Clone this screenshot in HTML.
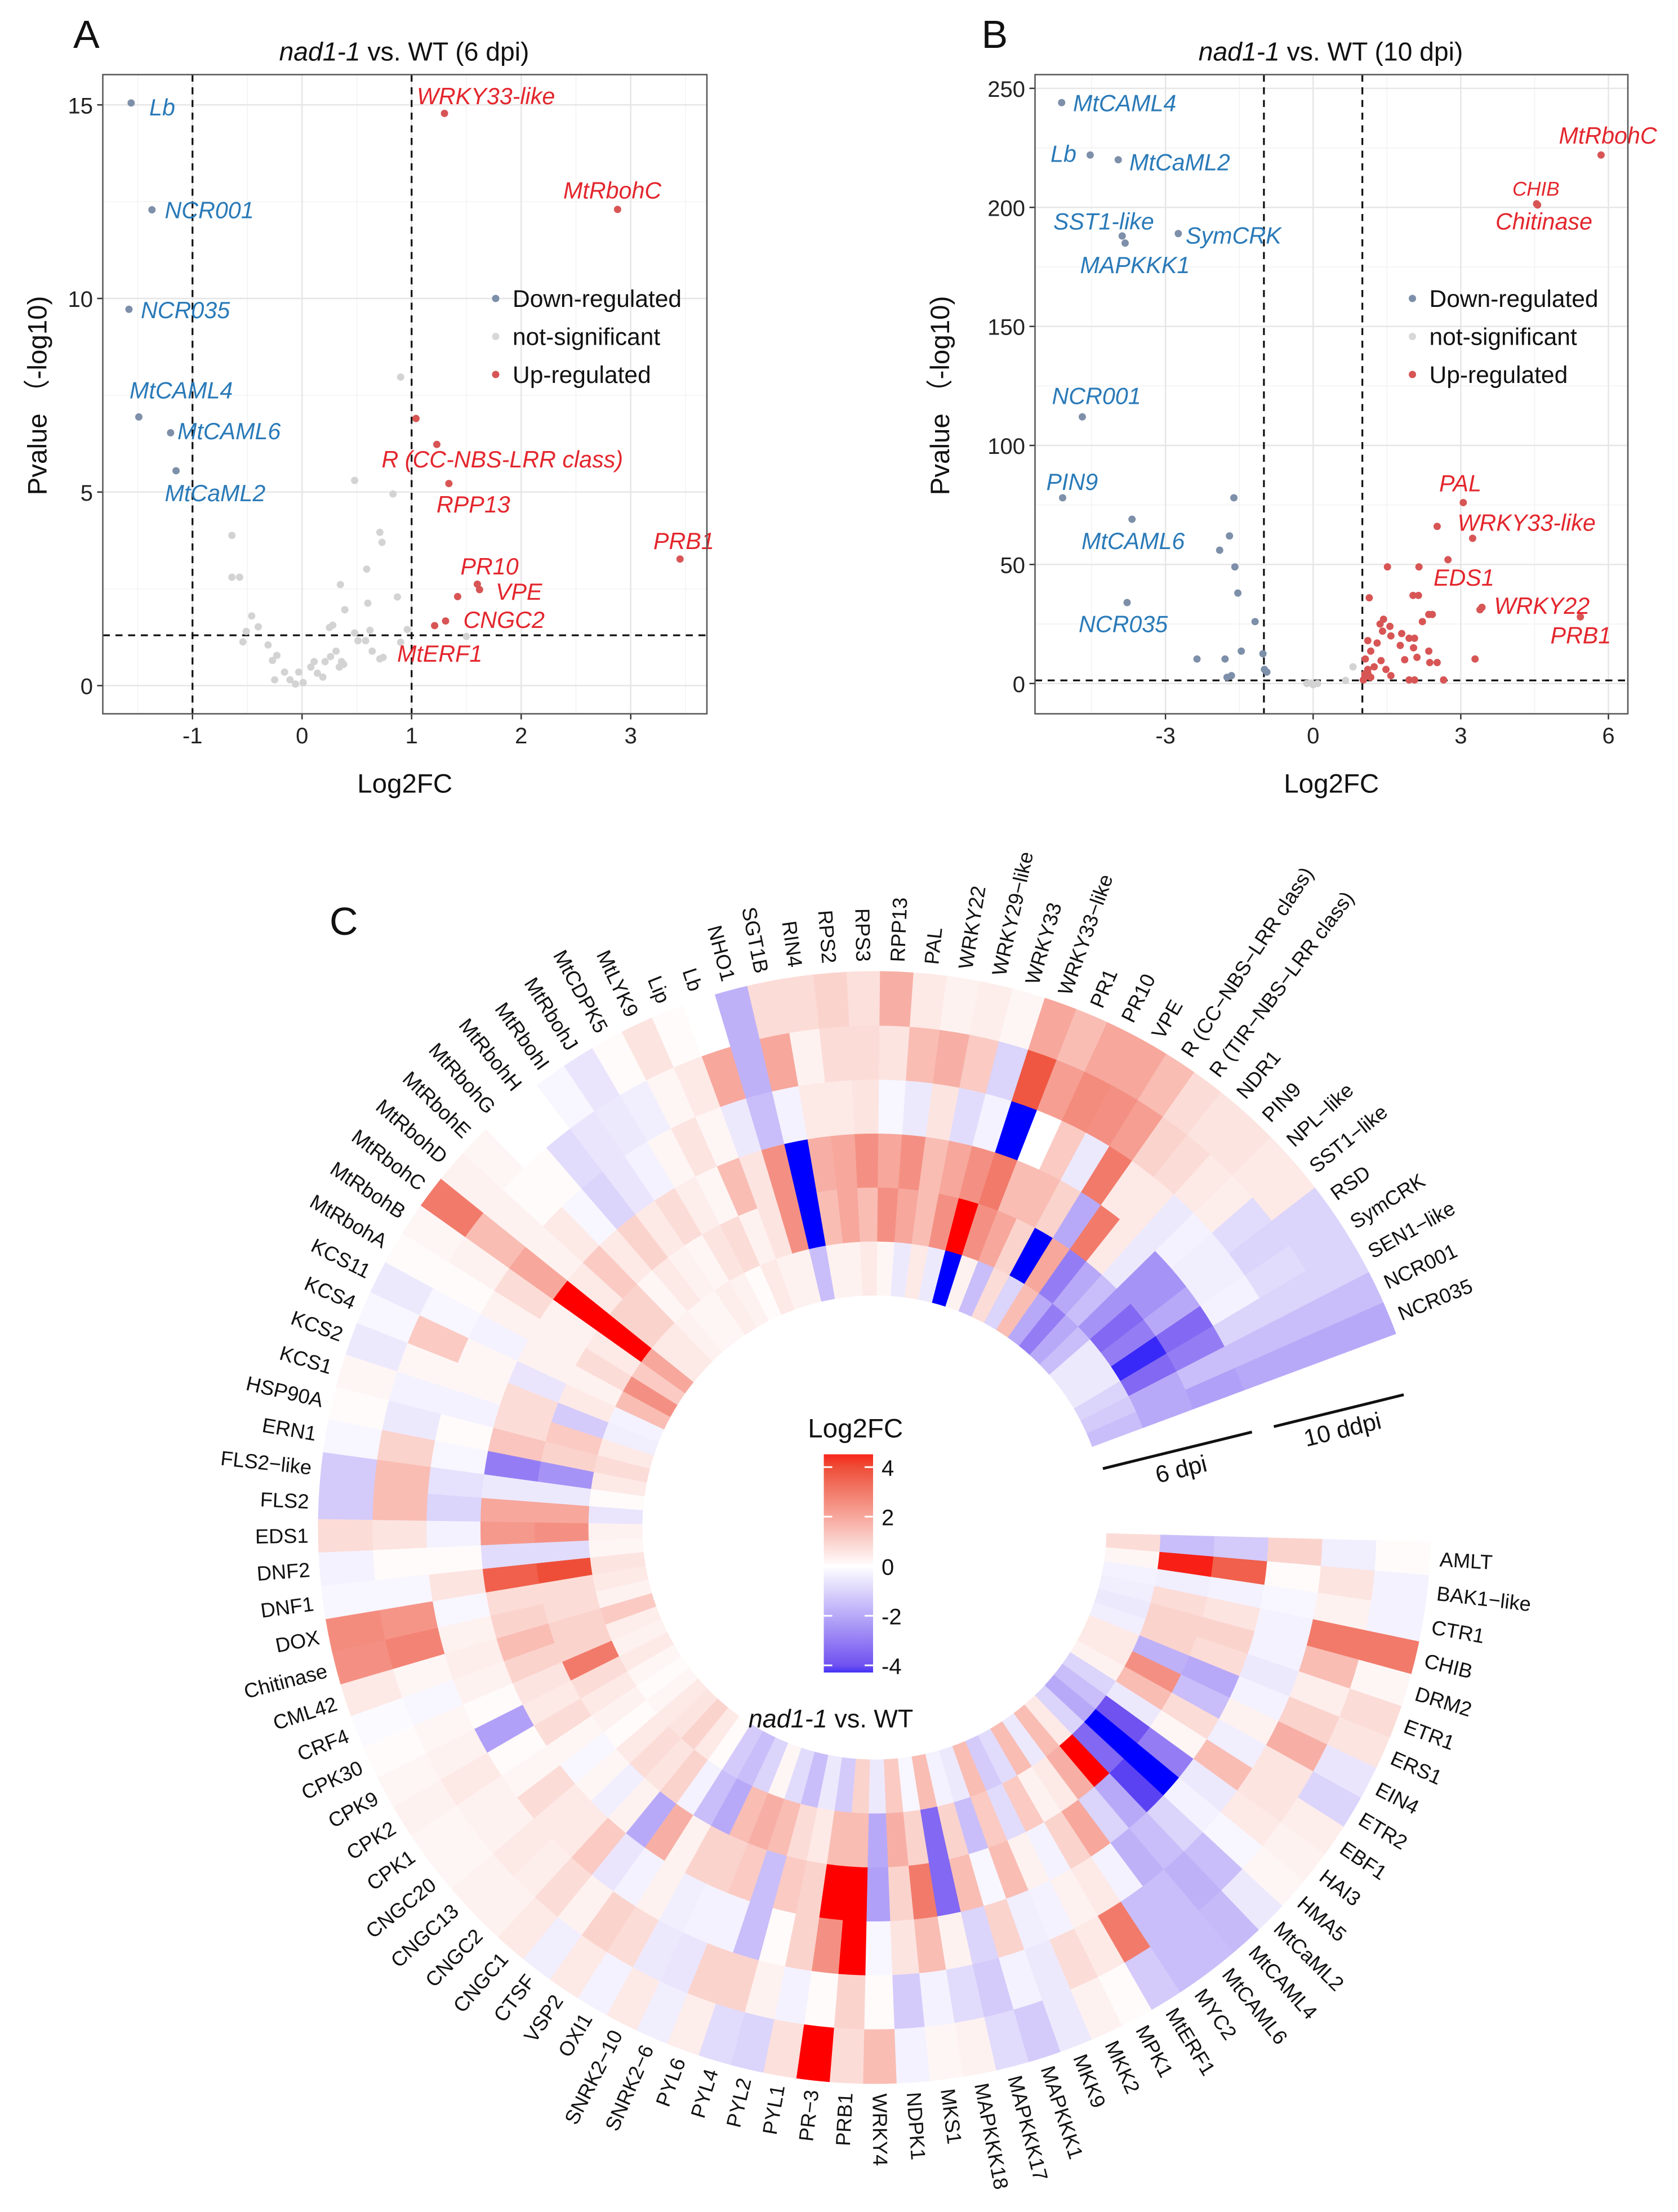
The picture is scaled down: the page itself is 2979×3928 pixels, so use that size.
<!DOCTYPE html>
<html><head><meta charset="utf-8">
<style>
html,body{margin:0;padding:0;background:#fff;}
svg{display:block;font-family:"Liberation Sans",Arial,sans-serif;}
</style></head>
<body>
<svg id="fig" xmlns="http://www.w3.org/2000/svg" width="2979" height="3928" viewBox="0 0 1191.6 1571.2">
<rect width="1191.6" height="1571.2" fill="#fff"/>
<g id="panelA"></g>
<g id="panelB"></g>
<g id="panelC"></g>
</svg>
<script>
// ---------- Panel A data (6 dpi) ----------
const aDownX=[-1.56,-1.37,-1.58,-1.49,-1.20,-1.15];
const aDownY=[15.05,12.29,9.72,6.94,6.53,5.55];
const aUpX=[1.30,2.88,1.04,1.23,1.34,3.45,1.60,1.62,1.42,1.31,1.21];
const aUpY=[14.78,12.30,6.90,6.23,5.22,3.27,2.62,2.48,2.30,1.67,1.55];
const aNsX=[0.90,0.48,0.83,-0.64,0.71,0.73,-0.64,-0.57,0.35,0.59,0.39,0.60,0.87,-0.46,-0.40,-0.51,-0.54,-0.31,-0.23,-0.27,-0.16,-0.25,-0.11,-0.06,0.01,0.08,0.14,0.19,0.21,0.26,0.28,0.31,0.34,0.36,0.38,0.48,0.51,0.62,0.58,0.64,0.71,0.74,0.96,0.90,1.50,0.25,0.11,-0.03];
const aNsY=[7.97,5.30,4.95,3.88,3.96,3.70,2.80,2.80,2.61,3.01,1.96,2.13,2.29,1.80,1.52,1.40,1.13,1.05,0.78,0.65,0.35,0.15,0.15,0.04,0.08,0.48,0.32,0.22,0.62,0.75,1.56,0.89,0.48,0.62,0.55,1.36,1.16,1.43,1.16,0.89,0.69,0.73,1.45,1.12,1.27,1.50,0.62,0.35];
const aDownLabels=["Lb","NCR001","NCR035","MtCAML4","MtCAML6","MtCaML2"];
const aDownLabelX=[106,117,100,92,126,117];
const aDownLabelY=[76,149,220,277,306,350];
const aUpLabels=["WRKY33-like","MtRbohC","R (CC-NBS-LRR class)","RPP13","PRB1","PR10","VPE","CNGC2","MtERF1"];
const aUpLabelX=[296,400,271,310,464,327,352,329,282];
const aUpLabelY=[68,135,326,358,384,402,420,440,464];
const aXTicks=[-1,0,1,2,3];
const aYTicks=[0,5,10,15];

// ---------- Panel B data (10 dpi) ----------
const bDownX=[-5.11,-4.53,-3.96,-2.74,-3.88,-3.82,-4.69,-5.09,-3.68,-1.61,-1.70,-1.90,-1.59,-1.53,-3.78,-1.18,-1.46,-2.36,-1.79,-1.02,-0.99,-1.75,-1.66,-0.94];
const bDownY=[244,222,220,189,188,185,112,78,69,78,62,56,49,38,34,26,13.6,10.3,10.3,12.5,5.9,2.6,3.3,4.8];
const bUpX=[5.85,4.54,4.56,3.05,2.52,3.24,2.74,1.51,2.15,2.03,2.14,1.14,3.39,3.43,5.43,2.35,2.42,2.22,1.36,1.41,1.58,1.30,1.80,1.95,2.06,1.77,2.04,2.35,1.11,1.17,1.06,1.38,1.86,2.11,2.37,2.52,3.29,1.11,1.24,1.48,1.58,1.95,2.06,2.65,1.06,1.17,1.11,1.56,1.43,1.02,1.05];
const bUpY=[222,201.5,201,76,66,61,52,49,49,37,37,36,31,32,28,29,29,26,25,22,20,17,21,19,19,16,15,13.6,18,13.6,10.3,9.6,10,11,8.8,8.8,10.3,5.9,7,5.9,3.3,1.5,1.5,1.5,3,2.6,4.4,24,27,1.5,4];
const bNsX=[0.0,0.09,-0.13,0.66,0.81,-0.04];
const bNsY=[-0.5,0,0,1.3,7,0.2];
const bDownLabels=["MtCAML4","Lb","MtCaML2","SST1-like","SymCRK","MAPKKK1","NCR001","PIN9","MtCAML6","NCR035"];
const bDownLabelX=[762,746,802,748,842,767,747,743,768,766];
const bDownLabelY=[73,109,115,157,167,188,281,342,384,443];
const bUpLabels=["MtRbohC","CHIB","Chitinase","PAL","WRKY33-like","EDS1","WRKY22","PRB1"];
const bUpLabelX=[1107,1074,1062,1022,1035,1018,1061,1101];
const bUpLabelY=[96,133,157,343,371,410,430,451];
const bXTicks=[-3,0,3,6];
const bYTicks=[0,50,100,150,200,250];

// ---------- Panel C data ----------
const genes=["AMLT","BAK1\u2212like","CTR1","CHIB","DRM2","ETR1","ERS1","EIN4","ETR2","EBF1","HAI3","HMA5","MtCaML2","MtCAML4","MtCAML6","MYC2","MtERF1","MPK1","MKK2","MKK9","MAPKKK1","MAPKKK17","MAPKKK18","MKS1","NDPK1","WRKY4","PRB1","PR\u22123","PYL1","PYL2","PYL4","PYL6","SNRK2\u22126","SNRK2\u221210","OXI1","VSP2","CTSF","CNGC1","CNGC2","CNGC13","CNGC20","CPK1","CPK2","CPK9","CPK30","CRF4","CML42","Chitinase","DOX","DNF1","DNF2","EDS1","FLS2","FLS2\u2212like","ERN1","HSP90A","KCS1","KCS2","KCS4","KCS11","MtRbohA","MtRbohB","MtRbohC","MtRbohD","MtRbohE","MtRbohG","MtRbohH","MtRbohI","MtRbohJ","MtCDPK5","MtLYK9","Lip","Lb","NHO1","SGT1B","RIN4","RPS2","RPS3","RPP13","PAL","WRKY22","WRKY29\u2212like","WRKY33","WRKY33\u2212like","PR1","PR10","VPE","R (CC\u2212NBS\u2212LRR class)","R (TIR\u2212NBS\u2212LRR class)","NDR1","PIN9","NPL\u2212like","SST1\u2212like","RSD","SymCRK","SEN1\u2212like","NCR001","NCR035"];
// per gene: 6 rings inner -> outer (3 x 6 dpi, 3 x 10 dpi)
const heatRows=[
[0.8,-1.5,-1.2,1,-0.4,0.1],[0.2,4.6,3.6,0.1,0.6,-0.3],[-0.3,-0.4,-0.3,-0.2,0.3,-0.3],[-0.4,0.8,0.6,-0.3,3,3],
[-0.5,1,1,-0.3,1.5,0.2],[-0.4,1,0.8,-0.5,0.4,0.8],[0.5,-1.8,-2,-0.3,1,0.6],[0.5,2.5,-1.5,0.3,1.8,-0.6],
[0.3,1.5,0.8,-0.4,0.6,-1.0],[-1,-0.5,0.2,1.5,0.6,0.4],[-1.5,-4,-3,-0.5,0.5,0.3],[-2,-5,-5,-0.3,-0.2,0.2],
[-1,-3.5,-4.2,-1,-1.5,-0.5],[0.5,5,-2,-1.5,-1.8,-1.6],[1.5,1.8,-1,-1.8,-1.5,-1.5],[-0.5,0.5,2,-0.3,-1.5,-1.5],
[1.5,0.3,1,0.5,3,-1.2],[-0.8,1.2,-0.3,0.3,0.5,0.1],[-1.2,-0.8,0.3,-0.3,0.8,0.3],[1.5,1.2,1.5,-0.4,-0.5,-0.5],
[-0.5,-1.5,-0.2,1,-0.3,-1.2],[-0.3,1,1.5,-1,-1.2,-0.8],[1.5,-3.5,-3.5,0.3,-0.8,0.3],[-0.2,1,3,1.5,-0.3,0.2],
[1.2,1.8,1,0.6,-1.2,-0.3],[-0.5,-2,-2.2,-0.2,0.1,1.5],[1,1.5,5,5,1,0.8],[-1.2,1.5,5,2.5,0.1,5],
[-0.5,0.5,1,1,-0.3,0.7],[-1.5,0.8,1.2,0.1,0.3,-1],[-0.8,1.5,-1.5,-1.5,1,-0.8],[0.2,1.8,1.2,-0.3,1,0.4],
[-1,1.5,1,-0.3,-0.6,-0.4],[-1.5,-2,1,-0.4,-0.5,0.5],[-1.2,-1.5,0.3,0.3,0.8,-0.3],[0.1,-0.3,1.8,-0.3,1,0.5],
[0.5,1,-2,-0.6,0.3,-0.4],[1,0.6,0.3,1.2,0.8,0.5],[0.6,0.8,-0.4,0.5,0.4,0.3],[0.5,0.5,0.2,0.5,0.5,0.3],
[0.2,0.1,-0.2,0.8,0.3,0.2],[0.1,0.3,0.2,0.2,0.3,0.2],[0.2,0.5,0.8,0.1,0.5,0.3],[0.5,0.8,0.5,-2.2,0.3,0.2],
[0.3,3,0.6,0.1,0.2,0.1],[0.4,1,1,0.3,-0.2,-0.1],[1.2,1,1.5,0.4,0.2,0.5],[0.3,0.8,1,0.3,2.8,2.5],
[0.5,0.8,0.8,-0.2,2.4,2.6],[0.6,4,3.6,0.6,-0.2,-0.2],[0.2,-0.8,-0.8,0.1,0.1,-0.3],[0.3,2.5,2.3,-0.3,0.6,0.8],
[-0.6,2,2,-1,1.5,-1.2],[0.1,-0.5,-0.5,-0.7,1.5,-1.2],[0.5,-2.5,-3,-0.2,1,-0.2],[0.8,1,1.3,0.1,-0.5,0.1],
[0.5,1.2,0.8,-0.3,-0.3,0.2],[-0.4,-1.2,0.8,0.2,0.2,-0.5],[-0.3,0.5,-0.6,0.2,1.2,-0.2],[1.5,0.3,0.3,-0.3,-0.2,-0.5],
[2.5,0.8,0.3,0.3,0.1,0.1],[1.2,0.5,0.3,0.8,0.3,0.2],[2,5,5,2,1.5,3],[0.5,1,0.5,0.3,0.3,0.3],
[0.5,1,1.2,0.5,0.1,0.2],[0.3,0.2,0.5,-0.2,0.1,0],[0.2,0.5,1,-1,-0.8,0],[0.2,0.3,0.5,-0.6,-0.6,-0.2],
[0.4,0.2,0.8,-0.3,-0.5,-0.6],[0.3,0.6,0.4,0.2,-0.4,0.1],[0.1,0.8,0.2,0.6,0.2,0.6],[0.5,0.3,1.5,0.2,0.5,0.1],
[0.3,0.6,0.6,-0.5,2,0],[0.3,2.5,2.5,-1.5,-1.8,-1.8],[-1.5,-5,-5,-0.3,2,0.8],[0.3,1.5,1.8,0.5,0.3,0.8],
[0.3,2,2,0.5,0.8,1],[0.5,1.5,2.5,0.6,0.8,0.7],[0.2,2.5,2,-0.2,0.6,1.8],[-0.5,2,2.5,-0.5,1.5,0.5],
[0.5,1.5,1.5,0.6,1.8,0.3],[-0.5,2.5,2,-0.8,1.2,0.4],[-5,5,2.5,-0.3,-1,0.2],[0.3,2.5,3,-5,3.8,2],
[-1.5,2,1.5,0,2.2,1.5],[0.8,1,1.5,1.2,2.6,2],[-1,-5,1,-0.5,2.5,2],[1.5,2,-2,3,2.2,1.5],
[-2,-3,3,0.5,1,0.8],[-3,-2,0.5,0.5,0.8,0.6],[-2,-1.5,-0.5,-0.5,0.5,0.6],[-1.5,-2.5,-2.5,-0.3,0.4,0.5],
[-0.5,-3.5,-2.5,-0.4,-0.8,0.5],[-0.5,-3,-2,-0.4,-1,-1],[-0.5,-4.5,-3.5,-0.3,-0.8,-1],[-1,-3.5,-3,-1,-1,-1],
[-1.2,-2,-1.5,-1.5,-1.5,-1.5],[-1.5,-2,-2.2,-2,-2,-2]];
const legendTicks=[4,2,0,-2,-4];

const NS="http://www.w3.org/2000/svg";
function mk(tag,attrs,parent,text){const e=document.createElementNS(NS,tag);for(const k in attrs)e.setAttribute(k,attrs[k]);if(text!==undefined)e.textContent=text;parent.appendChild(e);return e;}

function volcano(g,o){
  const sx=v=>o.x0+v*o.kx, sy=v=>o.y0-v*o.ky;
  for(const v of o.xMinor){const l=mk('line',{x1:sx(v),x2:sx(v),y1:o.top,y2:o.bot,stroke:'#f2f2f2','stroke-width':0.6},g);}
  for(const v of o.yMinor){const l=mk('line',{x1:o.left,x2:o.right,y1:sy(v),y2:sy(v),stroke:'#f2f2f2','stroke-width':0.6},g);}
  for(const v of o.xTicks){const l=mk('line',{x1:sx(v),x2:sx(v),y1:o.top,y2:o.bot,stroke:'#e6e6e6','stroke-width':1},g);
    const t=mk('line',{x1:sx(v),x2:sx(v),y1:o.bot,y2:o.bot+4,stroke:'#333','stroke-width':1},g);
    const tl=mk('text',{x:sx(v),y:o.bot+21,'text-anchor':'middle','font-size':16,fill:'#222'},g,String(v));}
  for(const v of o.yTicks){const l=mk('line',{x1:o.left,x2:o.right,y1:sy(v),y2:sy(v),stroke:'#e6e6e6','stroke-width':1},g);
    const t=mk('line',{x1:o.left-4,x2:o.left,y1:sy(v),y2:sy(v),stroke:'#333','stroke-width':1},g);
    const tl=mk('text',{x:o.left-7,y:sy(v)+6,'text-anchor':'end','font-size':16,fill:'#222'},g,String(v));}
  for(const v of [-1,1]){const l=mk('line',{x1:sx(v),x2:sx(v),y1:o.top,y2:o.bot,stroke:'#111','stroke-width':1.3,'stroke-dasharray':'5,4'},g);}
  {const l=mk('line',{x1:o.left,x2:o.right,y1:sy(1.3),y2:sy(1.3),stroke:'#111','stroke-width':1.3,'stroke-dasharray':'5,4'},g);}
  function pts(xs,ys,col,name){for(let i=0;i<xs.length;i++){const c=mk('circle',{cx:sx(xs[i]),cy:sy(ys[i]),r:2.6,fill:col},g);}}
  pts(o.nsX,o.nsY,'#d3d3d3','point-not-significant');
  pts(o.downX,o.downY,'#7d8fa9','point-down-regulated');
  pts(o.upX,o.upY,'#d85555','point-up-regulated');
  for(let i=0;i<o.dl.length;i++){const t=mk('text',{x:o.dlx[i],y:o.dly[i]+6,'font-size':16.5,'font-style':'italic',fill:'#2a7ab8'},g,o.dl[i]);}
  for(let i=0;i<o.ul.length;i++){const fs=o.ul[i]==='CHIB'?14:16.5;const t=mk('text',{x:o.ulx[i],y:o.uly[i]+6,'font-size':fs,'font-style':'italic',fill:'#e3262d'},g,o.ul[i]);}
  {const r=mk('rect',{x:o.left,y:o.top,width:o.right-o.left,height:o.bot-o.top,fill:'none',stroke:'#555','stroke-width':1},g);}
  const lg=mk('g',{},g);
  const names=['Down-regulated','not-significant','Up-regulated'],cols=['#7d8fa9','#d8d8d8','#d85555'],ly=[212,239,266];
  for(let i=0;i<3;i++){const c=mk('circle',{cx:o.legX,cy:ly[i],r:2.6,fill:cols[i]},lg);
    const t=mk('text',{x:o.legX+12,y:ly[i]+6,'font-size':17,fill:'#111'},lg,names[i]);}
  const tt=mk('text',{x:o.titleX,y:43,'text-anchor':'middle','font-size':18.5,fill:'#111'},g);
  mk('tspan',{'font-style':'italic'},tt,'nad1-1');mk('tspan',{},tt,' vs. WT ('+o.dpi+')');
  const xt=mk('text',{x:(o.left+o.right)/2,y:563,'text-anchor':'middle','font-size':19,fill:'#111'},g,'Log2FC');
  const yt=mk('text',{x:0,y:0,'text-anchor':'middle','font-size':19,fill:'#111',transform:`translate(${o.yTitleX},281) rotate(-90)`},g,'Pvalue \uFF08-log10)');
  const pl=mk('text',{x:o.letterX,y:34,'font-size':28,fill:'#111'},g,o.letter);
}

volcano(document.getElementById('panelA'),{x0:214.5,kx:77.8,y0:487,ky:27.5,left:73,right:502,top:53,bot:507,
  xTicks:aXTicks,yTicks:aYTicks,xMinor:[-1.5,-0.5,0.5,1.5,2.5,3.5],yMinor:[2.5,7.5,12.5],
  nsX:aNsX,nsY:aNsY,downX:aDownX,downY:aDownY,upX:aUpX,upY:aUpY,
  dl:aDownLabels,dlx:aDownLabelX,dly:aDownLabelY,ul:aUpLabels,ulx:aUpLabelX,uly:aUpLabelY,
  legX:352,titleX:287,dpi:'6 dpi',yTitleX:33,letter:'A',letterX:52});
volcano(document.getElementById('panelB'),{x0:932.5,kx:34.95,y0:485.5,ky:1.691,left:735,right:1156,top:53,bot:507,
  xTicks:bXTicks,yTicks:bYTicks,xMinor:[-4.5,-1.5,1.5,4.5],yMinor:[25,75,125,175,225],
  nsX:bNsX,nsY:bNsY,downX:bDownX,downY:bDownY,upX:bUpX,upY:bUpY,
  dl:bDownLabels,dlx:bDownLabelX,dly:bDownLabelY,ul:bUpLabels,ulx:bUpLabelX,uly:bUpLabelY,
  legX:1003,titleX:945,dpi:'10 dpi',yTitleX:674,letter:'B',letterX:697});

// ---------- Panel C ----------
(function(){
  const g=document.getElementById('panelC');
  const cx=621,cy=1085,r0=165,R=395,nR=6,rw=(R-r0)/nR,start=1.5,step=3.45;
  function color(v){
    let a,b,t;
    if(v>=0){ if(v<=4){a=[255,255,255];b=[238,78,56];t=v/4;} else {a=[238,78,56];b=[255,0,0];t=Math.min(v-4,1);} }
    else { const w=-v; if(w<=4){a=[255,255,255];b=[112,82,240];t=w/4;} else {a=[112,82,240];b=[0,0,255];t=Math.min(w-4,1);} }
    const c=a.map((x,i)=>Math.round(x+(b[i]-x)*t));return `rgb(${c[0]},${c[1]},${c[2]})`;
  }
  const rad=d=>d*Math.PI/180;
  function sector(a0,a1,ri,ro){
    const p=(r,a)=>`${(cx+r*Math.cos(rad(a))).toFixed(2)},${(cy+r*Math.sin(rad(a))).toFixed(2)}`;
    return `M${p(ri,a0)} L${p(ro,a0)} A${ro},${ro} 0 0 1 ${p(ro,a1)} L${p(ri,a1)} A${ri},${ri} 0 0 0 ${p(ri,a0)} Z`;
  }
  const cells=mk('g',{},g);
  for(let i=0;i<genes.length;i++){
    const a0=start+i*step,a1=a0+step;
    for(let k=0;k<nR;k++){
      const col=color(heatRows[i][k]);
      const p=mk('path',{d:sector(a0,a1,r0+k*rw,r0+(k+1)*rw),fill:col,stroke:col,'stroke-width':0.4},cells);
      
      
    }
    const am=a0+step/2, lr=R+7;
    const x=cx+lr*Math.cos(rad(am)), y=cy+lr*Math.sin(rad(am));
    let rot=am, anchor='start';
    if(am>90&&am<270){rot=am+180;anchor='end';}
    const t=mk('text',{x:0,y:0,'font-size':14.5,fill:'#111','text-anchor':anchor,'dominant-baseline':'central',transform:`translate(${x.toFixed(2)},${y.toFixed(2)}) rotate(${rot.toFixed(2)})`},g,genes[i]);
    
    
  }
  const ba=-13.8;
  function bar(r1,r2,label,name,off){
    const ca=Math.cos(rad(ba)),sa=Math.sin(rad(ba));
    const l=mk('line',{x1:cx+r1*ca,y1:cy+r1*sa+off,x2:cx+r2*ca,y2:cy+r2*sa+off,stroke:'#111','stroke-width':2},g);
    const rm=(r1+r2)/2;
    const t=mk('text',{x:0,y:0,'font-size':17,fill:'#111','text-anchor':'middle',transform:`translate(${cx+rm*ca+4},${cy+rm*sa+off+19}) rotate(${ba})`},g,label);
  }
  bar(r0+2,r0+3*rw-4,'6 dpi','group-6dpi',-2);
  bar(r0+3*rw+12,R-8,'10 ddpi','group-10dpi',-2);
  const lg=mk('g',{},g);
  const defs=mk('defs',{},lg);
  const gr=mk('linearGradient',{id:'cb',x1:0,y1:0,x2:0,y2:1},defs);
  const bx=585,bw=35,btop=1033,bbot=1188,k=17.6,zero=1112.5;
  const stops=[[4.5,color(4.5)],[4,color(4)],[2,color(2)],[0,color(0)],[-2,color(-2)],[-4,color(-4)],[-4.4,color(-4.4)]];
  for(const s of stops){mk('stop',{offset:((zero-s[0]*k-btop)/(bbot-btop)).toFixed(3),'stop-color':s[1]},gr);}
  const r=mk('rect',{x:bx,y:btop,width:bw,height:bbot-btop,fill:'url(#cb)'},lg);
  for(const v of legendTicks){const y=zero-v*k;
    mk('line',{x1:bx,x2:bx+6,y1:y,y2:y,stroke:'#fff','stroke-width':1.2},lg);
    mk('line',{x1:bx+bw-6,x2:bx+bw,y1:y,y2:y,stroke:'#fff','stroke-width':1.2},lg);
    const t=mk('text',{x:bx+bw+6,y:y+6,'font-size':16,fill:'#111'},lg,String(v));}
  const lt=mk('text',{x:bx+bw/2+5,y:1021,'text-anchor':'middle','font-size':19,fill:'#111'},lg,'Log2FC');
  const st=mk('text',{x:590,y:1227,'text-anchor':'middle','font-size':18,fill:'#111'},g);
  mk('tspan',{'font-style':'italic'},st,'nad1-1');mk('tspan',{},st,' vs. WT');
  const pl=mk('text',{x:234,y:664,'font-size':28,fill:'#111'},g,'C');
})();
</script>
</body></html>
